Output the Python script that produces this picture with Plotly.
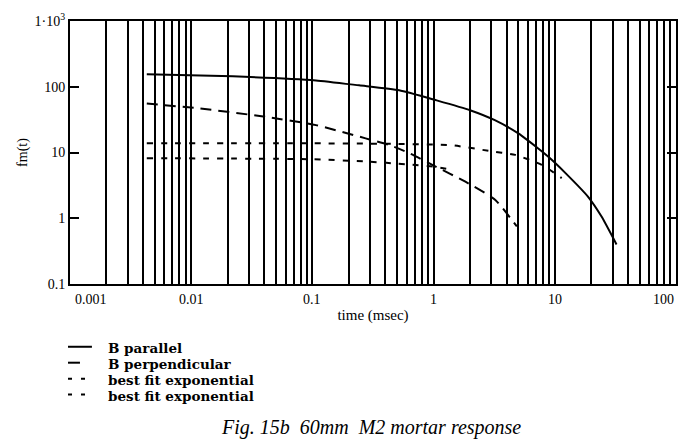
import math
import plotly.graph_objects as go

# ---- data ----
t_parallel = [0.0043, 0.022, 0.107, 0.243, 0.52, 1.06, 2.0, 3.2, 5.0, 7.3, 8.85, 12.2, 18.9, 24.3, 32.3]
f_parallel = [155, 144, 125, 105, 88.5, 62, 44, 31, 19.5, 11.5, 8.6, 4.9, 2.1, 1.06, 0.40]

t_perp = [0.0043, 0.0117, 0.0415, 0.107, 0.275, 0.43, 0.63, 1.04, 1.83, 3.23, 4.86]
f_perp = [55.6, 46.8, 34.8, 26.1, 16.4, 13, 9.8, 6.1, 3.6, 1.9, 0.75]

t_fit1 = [0.0043, 0.1, 0.5, 1.41, 2.84, 4.71, 7.8, 11.4]
f_fit1 = [13.8, 13.8, 13.5, 12.9, 10.6, 9.2, 6.5, 4.07]

t_fit2 = [0.0043, 0.1, 0.28, 0.6, 1.0, 1.4]
f_fit2 = [8.2, 7.9, 7.3, 6.6, 6.1, 5.5]

series_names = ["B parallel", "B perpendicular", "best fit exponential", "best fit exponential"]

x_tick_vals = [0.001, 0.01, 0.1, 1, 10, 100]
x_tick_text = ["0.001", "0.01", "0.1", "1", "10", "100"]
y_tick_vals = [0.1, 1, 10, 100, 1000]
y_tick_text = ["0.1", "1", "10", "100", "1\u00b710<sup>3</sup>"]

x_title = "time (msec)"
y_title = "fm(t)"
caption = "Fig. 15b\u00a0 60mm\u00a0 M2 mortar response"

# ---- layout geometry ----
W, H = 689, 445
ML, MR, MT, MB = 70, 11, 20, 161
PW, PH = W - ML - MR, H - MT - MB
FONT = "Liberation Serif"
LEG_FONT = "DejaVu Serif"


def px_x(px):
    return (px - ML) / PW


def px_y(py):
    return (H - MB - py) / PH


LW = 2
styles = [
    dict(color="black", width=LW, dash="solid"),
    dict(color="black", width=LW, dash="11px,7px"),
    dict(color="black", width=LW, dash="6px,8px"),
    dict(color="black", width=LW, dash="6px,8px"),
]

fig = go.Figure()
for (tx, fy), name, st in zip(
    [(t_parallel, f_parallel), (t_perp, f_perp), (t_fit1, f_fit1), (t_fit2, f_fit2)],
    series_names, styles):
    fig.add_trace(go.Scatter(x=tx, y=fy, mode="lines", name=name,
                             line=dict(shape="spline", smoothing=0.5, **st),
                             showlegend=False))

minor_vals = [m * d for d in [0.001, 0.01, 0.1, 1, 10] for m in range(2, 10)]

fig.update_layout(
    width=W, height=H,
    margin=dict(l=ML, r=MR, t=MT, b=MB, pad=0),
    paper_bgcolor="white", plot_bgcolor="white",
    font=dict(family=FONT, color="black", size=14),
    showlegend=False,
    xaxis=dict(
        type="log", range=[-3, 2],
        tickvals=x_tick_vals, showticklabels=False, ticks="",
        showgrid=True, gridcolor="black", gridwidth=1.6,
        minor=dict(tickvals=minor_vals, showgrid=True, gridcolor="black", gridwidth=1.6, ticks=""),
        showline=True, linecolor="black", linewidth=2, mirror=True, zeroline=False,
        title=dict(text=x_title, font=dict(size=15, family=FONT), standoff=24),
    ),
    yaxis=dict(
        type="log", range=[-1, 3],
        tickvals=y_tick_vals, ticktext=y_tick_text,
        ticks="inside", ticklen=9, tickwidth=2, tickcolor="black",
        showgrid=False, showline=True, linecolor="black", linewidth=2, mirror="ticks",
        zeroline=False, tickfont=dict(size=14, family=FONT),
        title=dict(text=y_title, font=dict(size=14, family=FONT), standoff=4),
    ),
)

annotations = []
# x tick labels (edge labels kept inside the frame as in the reference)
for i, (v, txt) in enumerate(zip(x_tick_vals, x_tick_text)):
    anchor = "left" if i == 0 else ("right" if i == len(x_tick_vals) - 1 else "center")
    annotations.append(dict(x=math.log10(v), xref="x", y=px_y(300), yref="paper",
                            text=txt, showarrow=False, xanchor=anchor, yanchor="middle",
                            xshift=3 if i == 0 else 0,
                            font=dict(size=14, family=FONT)))

# legend drawn below the chart
legend_rows = [347, 363, 379, 395]
sym_len = [24, 12, 18, 18]
shapes = []
for name, st, ry, sl in zip(series_names, styles, legend_rows, sym_len):
    sym_dash = "solid" if st["dash"] == "solid" or sl == 12 else "4px,9px"
    shapes.append(dict(type="line", xref="paper", yref="paper",
                       x0=px_x(68), x1=px_x(68 + sl), y0=px_y(ry), y1=px_y(ry),
                       line=dict(color="black", width=2, dash=sym_dash)))
    annotations.append(dict(x=px_x(107), y=px_y(ry + 1), xref="paper", yref="paper", text=name,
                            showarrow=False, xanchor="left", yanchor="middle", borderpad=0,
                            font=dict(size=13.5, family=LEG_FONT, weight=600)))

annotations.append(dict(x=px_x(372), y=px_y(428), xref="paper", yref="paper", text="<i>" + caption + "</i>",
                        showarrow=False, xanchor="center", yanchor="middle",
                        font=dict(size=20, family=FONT)))

fig.update_layout(annotations=annotations, shapes=shapes)
fig.write_html("out.html")
